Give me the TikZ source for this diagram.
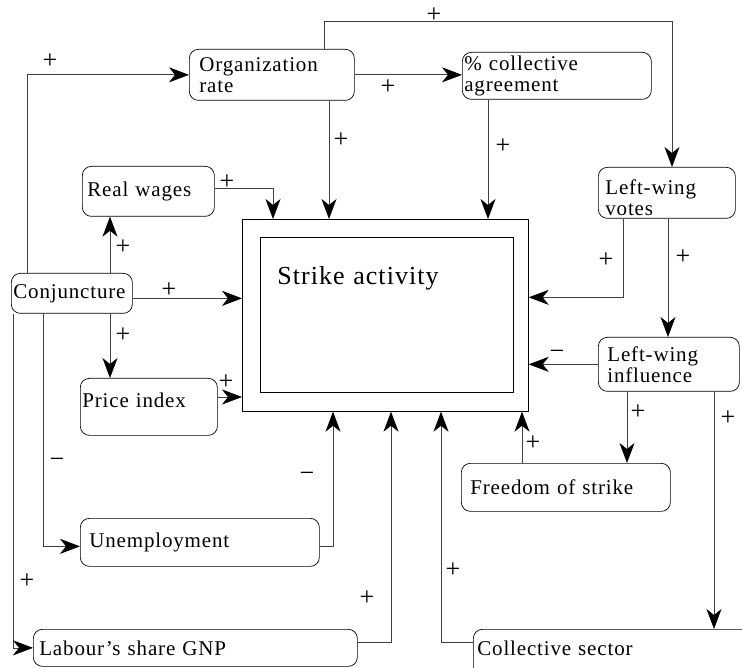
\documentclass[tikz,border=0pt]{standalone}
\usepackage{fontspec}
\setmainfont{Liberation Serif}[LetterSpace=4]
\usetikzlibrary{arrows.meta}

\begin{document}
\begin{tikzpicture}[x=1pt,y=-1pt]
\tikzstyle{every node}+=[inner sep=0pt]
\tikzstyle{box}=[draw, line width=0.7pt, rounded corners=9pt, anchor=north west, align=left, font=\fontsize{21}{21}\selectfont]
\tikzstyle{sign}=[font=\fontsize{26}{26}\selectfont]
\tikzstyle{link}=[black!75, line width=0.7pt, -{Stealth[length=20pt,width=15pt,inset=6pt,black]}]
\useasboundingbox (0,0) rectangle (742,668);
% boxes
\node[box, minimum height=51pt, inner xsep=10pt, text width=145pt] (org) at (189,49) {Organization\\rate};
\node[box, minimum height=47pt, inner xsep=2pt, text width=185pt] (coll) at (462,52) {\% collective\\agreement};
\node[box, minimum height=50pt, inner xsep=5pt, text width=122pt] (real) at (82,166) {Real wages};
\node[box, minimum height=40pt, inner xsep=2pt, text width=117pt] (conj) at (11,273) {Conjuncture};
\node[box, inner xsep=2pt, text width=133pt, text height=29pt, text depth=28pt] (price) at (80,378) {Price index};
\node[box, minimum height=48pt, inner xsep=9pt, text width=221pt] (unemp) at (80,518) {Unemployment};
\node[box, minimum height=37pt, inner xsep=6pt, text width=312pt] (labour) at (33,629) {Labour’s share GNP};
\node[box, inner xsep=4pt, text width=292pt, text height=26pt, text depth=30pt] (colsec) at (473,629) {Collective sector};
\node[box, minimum height=48pt, inner xsep=9pt, text width=191pt] (freedom) at (461,463) {Freedom of strike};
\node[box, inner xsep=7pt, text width=123pt, text height=27pt, text depth=24pt] (votes) at (598,167) {Left-wing\\votes};
\node[box, minimum height=54pt, inner xsep=9pt, text width=123pt] (infl) at (598,337) {Left-wing\\influence};
\node[draw, line width=0.7pt, anchor=north west, minimum width=286pt, minimum height=192pt] (strike) at (242,219) {};
\node[draw, line width=0.7pt, anchor=north west, align=left, inner xsep=17pt, text width=219pt, text height=47pt, text depth=108pt, font=\fontsize{26}{30}\selectfont] (strikein) at (260,237) {Strike activity};
% connectors
\draw[link] ([xshift=16pt]conj.north west) |- (org.west);
\draw[link] (org.east) -- (org.east -| coll.west);
\draw[link] ([xshift=135pt]org.north west) -- ++(0,-28) -| ([xshift=74pt]votes.north west);
\draw[link] ([xshift=140pt]org.south west) -- ([xshift=140pt]org.south west |- strike.north);
\draw[link] ([xshift=26pt]coll.south west) -- ([xshift=26pt]coll.south west |- strike.north);
\draw[link] ([yshift=-22pt]real.north east) -| ([xshift=31pt]strike.north west);
\draw[link] ([xshift=99pt]conj.north west) -- ([xshift=99pt]conj.north west |- real.south);
\draw[link] ([yshift=-5pt]conj.east) -- ([yshift=-5pt]conj.east -| strike.west);
\draw[link] ([xshift=99pt]conj.south west) -- ([xshift=99pt]conj.south west |- price.north);
\draw[link] ([yshift=-19pt]price.north east) -- ([yshift=-19pt]price.north east -| strike.west);
\draw[link] ([xshift=2pt]conj.south west) |- (labour.west);
\draw[link] ([xshift=32pt]conj.south west) |- ([yshift=-4pt]unemp.west);
\draw[link] ([yshift=-4pt]unemp.east) -| ([xshift=91pt]strike.south west);
\draw[link] ([yshift=6pt]labour.east) -| ([xshift=149pt]strike.south west);
\draw[link] ([yshift=-13pt]colsec.north west) -| ([xshift=199pt]strike.south west);
\draw[link] ([xshift=61pt]freedom.north west) -- ([xshift=61pt]freedom.north west |- strike.south);
\draw[link] ([xshift=25pt]votes.south west) |- ([yshift=18pt]strike.east);
\draw[link] ([xshift=70pt]votes.south west) -- ([xshift=70pt]votes.south west |- infl.north);
\draw[link] (infl.west) -- (infl.west -| strike.east);
\draw[link] ([xshift=29pt]infl.south west) -- ([xshift=29pt]infl.south west |- freedom.north);
\draw[link] ([xshift=116pt]infl.south west) -- ([xshift=116pt]infl.south west |- colsec.north);
% signs
\node[sign] (s1) at (50,61) {+};
\node[sign] (s2) at (434,15) {+};
\node[sign] (s3) at (388,87) {+};
\node[sign] (s4) at (341,140) {+};
\node[sign] (s5) at (503,146) {+};
\node[sign] (s6) at (227,182) {+};
\node[sign] (s7) at (123,247) {+};
\node[sign] (s8) at (169,290) {+};
\node[sign] (s9) at (123,335) {+};
\node[sign] (s10) at (226,382) {+};
\node[sign] (s11) at (27,581) {+};
\node[sign] (s12) at (57,463) {−};
\node[sign] (s13) at (307,477) {−};
\node[sign] (s14) at (367,598) {+};
\node[sign] (s15) at (453,570) {+};
\node[sign] (s16) at (533,443) {+};
\node[sign] (s17) at (606,260) {+};
\node[sign] (s18) at (683,257) {+};
\node[sign] (s19) at (557,355) {−};
\node[sign] (s20) at (638,412) {+};
\node[sign] (s21) at (728,418) {+};
\end{tikzpicture}
\end{document}
